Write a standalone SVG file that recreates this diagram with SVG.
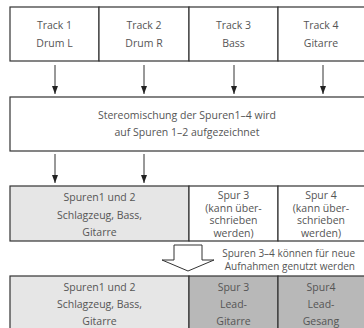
<svg xmlns="http://www.w3.org/2000/svg" width="364" height="328" viewBox="0 0 364 328">
  <defs>
    <style>
      .box { stroke: #333; stroke-width: 1.2; fill: #fff; }
      .lt { fill: #e6e6e6; }
      .dk { fill: #b8b8b8; }
      .t { font-family: "Open Sans", "Noto Sans", sans-serif; font-size: 10.5px; fill: #555; text-anchor: middle; }
      .edge { stroke: #333; stroke-width: 1; fill: none; marker-end: url(#ah); }
    </style>
    <marker id="ah" viewBox="0 0 8 6" refX="8" refY="3" markerWidth="8" markerHeight="6" markerUnits="userSpaceOnUse" orient="auto">
      <path d="M0,0 L8,3 L0,6 Z" fill="#222"/>
    </marker>
  </defs>
  <rect width="364" height="328" fill="#fff"/>

  <!-- input tracks -->
  <g id="track1">
    <rect class="box" x="10" y="7" width="89" height="54"/>
    <text class="t" x="54.5" y="29">Track 1</text>
    <text class="t" x="54.5" y="47">Drum L</text>
  </g>
  <g id="track2">
    <rect class="box" x="99" y="7" width="90" height="54"/>
    <text class="t" x="144" y="29">Track 2</text>
    <text class="t" x="144" y="47">Drum R</text>
  </g>
  <g id="track3">
    <rect class="box" x="189" y="7" width="89" height="54"/>
    <text class="t" x="233.5" y="29">Track 3</text>
    <text class="t" x="233.5" y="47">Bass</text>
  </g>
  <g id="track4">
    <rect class="box" x="278" y="7" width="90" height="54"/>
    <text class="t" x="321" y="29">Track 4</text>
    <text class="t" x="321" y="47">Gitarre</text>
  </g>

  <!-- stereo mixdown -->
  <g id="mixdown">
    <rect class="box" x="10" y="97" width="358" height="54"/>
    <text class="t" x="187" y="119">Stereomischung der Spuren1–4 wird</text>
    <text class="t" x="187" y="136">auf Spuren 1–2 aufgezeichnet</text>
  </g>

  <!-- after bounce -->
  <g id="bounced12">
    <rect class="box lt" x="10" y="186" width="179" height="55"/>
    <text class="t" x="99.5" y="201">Spuren1 und 2</text>
    <text class="t" x="99.5" y="219">Schlagzeug, Bass,</text>
    <text class="t" x="99.5" y="236">Gitarre</text>
  </g>
  <g id="free3">
    <rect class="box" x="189" y="186" width="89" height="55"/>
    <text class="t" x="233.5" y="199">Spur 3</text>
    <text class="t" x="233.5" y="211.5">(kann über-</text>
    <text class="t" x="233.5" y="224">schrieben</text>
    <text class="t" x="233.5" y="236.5">werden)</text>
  </g>
  <g id="free4">
    <rect class="box" x="278" y="186" width="90" height="55"/>
    <text class="t" x="321" y="199">Spur 4</text>
    <text class="t" x="321" y="211.5">(kann über-</text>
    <text class="t" x="321" y="224">schrieben</text>
    <text class="t" x="321" y="236.5">werden)</text>
  </g>

  <!-- final layout -->
  <g id="final12">
    <rect class="box lt" x="10" y="276" width="179" height="60"/>
    <text class="t" x="99.5" y="291">Spuren1 und 2</text>
    <text class="t" x="99.5" y="308">Schlagzeug, Bass,</text>
    <text class="t" x="99.5" y="325">Gitarre</text>
  </g>
  <g id="lead3">
    <rect class="box dk" x="189" y="276" width="89" height="60"/>
    <text class="t" x="233.5" y="291">Spur 3</text>
    <text class="t" x="233.5" y="308">Lead-</text>
    <text class="t" x="233.5" y="325">Gitarre</text>
  </g>
  <g id="lead4">
    <rect class="box dk" x="278" y="276" width="90" height="60"/>
    <text class="t" x="321" y="291">Spur4</text>
    <text class="t" x="321" y="308">Lead-</text>
    <text class="t" x="321" y="325">Gesang</text>
  </g>

  <!-- connectors -->
  <g id="connectors">
    <line class="edge" x1="55" y1="65" x2="55" y2="94"/>
    <line class="edge" x1="144" y1="65" x2="144" y2="94"/>
    <line class="edge" x1="234" y1="65" x2="234" y2="94"/>
    <line class="edge" x1="323" y1="65" x2="323" y2="94"/>
    <line class="edge" x1="55" y1="154" x2="55" y2="183"/>
    <line class="edge" x1="144" y1="154" x2="144" y2="183"/>
    <!-- block arrow to final layout -->
    <path d="M174,245 L202,245 L202,260 L214,260 L188,271 L162,260 L174,260 Z" fill="#fff" stroke="#333" stroke-width="1"/>
  </g>

  <g id="note">
    <text class="t" style="text-anchor:end;font-size:10px" x="355" y="257">Spuren 3–4 können für neue</text>
    <text class="t" style="text-anchor:end;font-size:10px" x="355" y="270">Aufnahmen genutzt werden</text>
  </g>
</svg>
